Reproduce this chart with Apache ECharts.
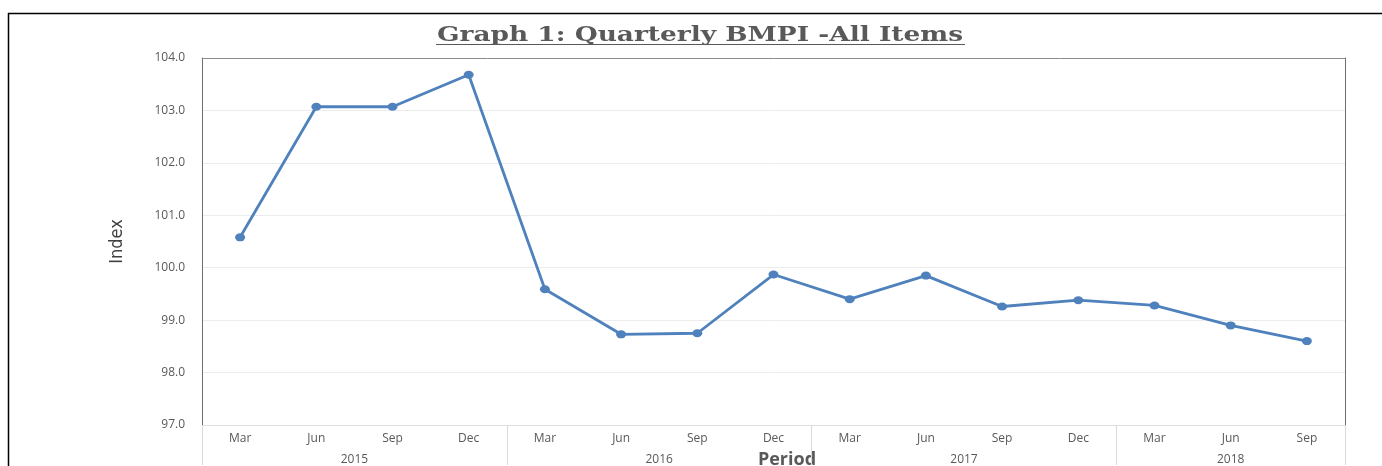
<!DOCTYPE html>
<html>
	<head>
		<meta charset="utf-8">
		<title>Quarterly BMPI</title>
		<script src="https://cdn.jsdelivr.net/npm/echarts@6/dist/echarts.min.js"></script>
	</head>
	<body style="margin:0;padding:0;background:#fff">
		<div id="main" style="width:1382px;height:466px"></div>
	</body>
	<script type="text/javascript">
		// quarters (month label) and their year
		var months = ["Mar", "Jun", "Sep", "Dec", "Mar", "Jun", "Sep", "Dec", "Mar", "Jun", "Sep", "Dec", "Mar", "Jun", "Sep"];
		var years = ["2015", "2016", "2017", "2018"];
		// centre of each year group and group boundaries, in category units
		var yearCentres = [2, 6, 10, 13.5];
		var yearBounds = [0, 4, 8, 12, 15];
		var bmpi = [100.58, 103.07, 103.07, 103.68, 99.59, 98.73, 98.75, 99.87, 99.40, 99.85, 99.26, 99.38, 99.28, 98.90, 98.60];

		var myChart = echarts.init(document.getElementById('main'));

		var grey = "#595959";
		var option = {
			backgroundColor: "#fff",
			animation: false,
			grid: {
				left: 202,
				right: 37,
				top: 58,
				bottom: 40
			},
			graphic: [
				// outer frame (top and left edges)
				{ type: "line", shape: { x1: 8, y1: 13.5, x2: 1382, y2: 13.5 }, style: { stroke: "#000", lineWidth: 1.5 } },
				{ type: "line", shape: { x1: 8.5, y1: 13, x2: 8.5, y2: 466 }, style: { stroke: "#000", lineWidth: 1.5 } },
				{
					type: "group",
					x: 700,
					y: 36,
					scaleX: 1.32,
					scaleY: 1,
					children: [{
						type: "text",
						x: 0,
						y: 0,
						style: {
							text: "Graph 1: Quarterly BMPI -All Items",
							fill: grey,
							font: "bold 20px 'DejaVu Serif', serif",
							textAlign: "center",
							textVerticalAlign: "middle"
						}
					}]
				},
				{ type: "line", shape: { x1: 436, y1: 44.5, x2: 965, y2: 44.5 }, style: { stroke: grey, lineWidth: 1.2 } },
				{
					type: "text",
					x: 787,
					y: 460,
					style: {
						text: "Period",
						fill: grey,
						font: "bold 18px 'Open Sans', sans-serif",
						textAlign: "center",
						textVerticalAlign: "middle"
					}
				}
			],
			xAxis: [{
				type: "category",
				data: months,
				boundaryGap: true,
				position: "bottom",
				axisLine: { lineStyle: { color: "#e0e0e0", width: 1 } },
				axisTick: { show: false },
				axisLabel: { color: grey, fontSize: 12, fontFamily: "Open Sans", margin: 8, interval: 0 },
				splitLine: { show: false }
			}, {
				type: "value",
				min: 0,
				max: 15,
				position: "bottom",
				axisLine: { show: false },
				axisTick: {
					show: true,
					customValues: yearBounds,
					length: 40,
					lineStyle: { color: "#d9d9d9" }
				},
				axisLabel: {
					customValues: yearCentres,
					color: grey,
					fontSize: 12,
					fontFamily: "Open Sans",
					margin: 29,
					formatter: function (v) {
						var i = yearCentres.indexOf(v);
						return i >= 0 ? years[i] : "";
					}
				},
				splitLine: { show: false }
			}, {
				type: "category",
				data: months,
				position: "top",
				axisLine: { lineStyle: { color: "#8c8c8c" } },
				axisTick: { show: false },
				axisLabel: { show: false },
				splitLine: { show: false }
			}],
			yAxis: [{
				type: "value",
				min: 97,
				max: 104,
				interval: 1,
				name: "Index",
				nameLocation: "middle",
				nameRotate: 90,
				nameGap: 76,
				nameTextStyle: { color: "#404040", fontSize: 18, fontFamily: "'DejaVu Sans Condensed', 'Liberation Sans Narrow', sans-serif" },
				axisLine: { show: true, lineStyle: { color: "#6e6e6e" } },
				axisTick: { show: false },
				axisLabel: {
					color: grey,
					fontSize: 12,
					fontFamily: "Open Sans",
					margin: 17,
					formatter: function (v) { return v.toFixed(1); }
				},
				splitLine: { lineStyle: { color: "#ececec" } }
			}, {
				type: "value",
				min: 97,
				max: 104,
				position: "right",
				axisLine: { show: true, lineStyle: { color: "#6e6e6e" } },
				axisTick: { show: false },
				axisLabel: { show: false },
				splitLine: { show: false }
			}],
			series: [{
				type: "line",
				data: bmpi,
				xAxisIndex: 0,
				yAxisIndex: 0,
				symbol: "circle",
				symbolSize: [10, 8],
				lineStyle: { color: "#4f81bd", width: 2.8 },
				itemStyle: { color: "#4f81bd" }
			}]
		};
		myChart.setOption(option);
	</script>
</html>
